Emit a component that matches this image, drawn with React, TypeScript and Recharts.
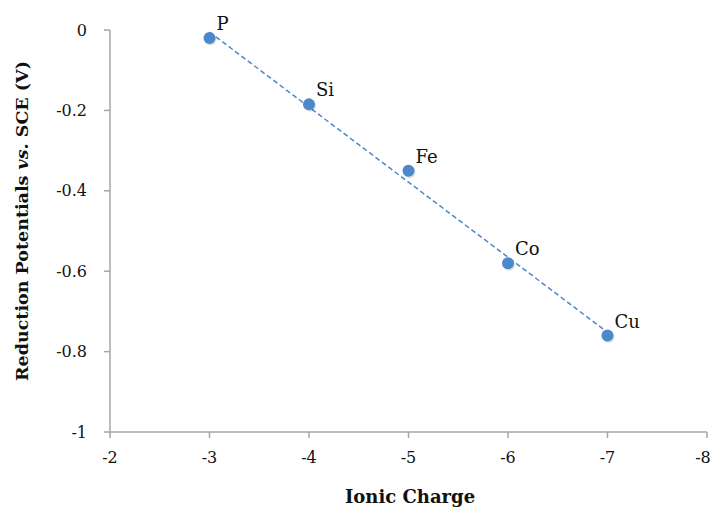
import React from 'react';
import { ScatterChart, Scatter, XAxis, YAxis, LabelList, Label } from 'recharts';

const elements = ['P', 'Si', 'Fe', 'Co', 'Cu'];
const charges = [-3, -4, -5, -6, -7];
const potentials = [-0.02, -0.185, -0.35, -0.58, -0.76];
const trendX = [-3, -7];
const trendY = [-0.005, -0.752];
const xTicks = [-2, -3, -4, -5, -6, -7, -8];
const yTicks = [0, -0.2, -0.4, -0.6, -0.8, -1];

const points = elements.map((name, i) => ({ name, x: charges[i], y: potentials[i] }));
const trend = trendX.map((x, i) => ({ x, y: trendY[i] }));

const BLUE = '#4d87cc';
const AXIS = '#a6a6a6';
const FONT = '"DejaVu Serif", serif';

const Dot = (props: any) => {
  const { cx, cy } = props;
  return (
    <g>
      <circle cx={cx + 1} cy={cy + 1.5} r={6} fill="#000" opacity={0.12} />
      <circle cx={cx} cy={cy} r={6} fill={BLUE} />
    </g>
  );
};

const NoDot = () => <g />;

const PointLabel = (props: any) => {
  const { x, y, width, height, value } = props;
  const cx = x + (width || 0) / 2;
  const cy = y + (height || 0) / 2;
  return (
    <text x={cx + 7} y={cy - 8} fontFamily={FONT} fontSize={18} fill="#111">
      {value}
    </text>
  );
};

const XTick = (props: any) => {
  const { x, y, payload } = props;
  const v = payload.value;
  const shift = v === xTicks[xTicks.length - 1] ? -4 : 0;
  return (
    <text
      x={x + shift}
      y={y + 23}
      textAnchor="middle"
      fontFamily={FONT}
      fontSize={16}
      fill="#111"
    >
      {String(v)}
    </text>
  );
};

const YTitle = () => (
  <text
    x={0}
    y={0}
    transform="translate(28,221) rotate(-90)"
    textAnchor="middle"
    fontFamily={FONT}
    fontSize={17.5}
    fontWeight="bold"
    fill="#111"
  >
    Reduction Potentials <tspan fontStyle="italic">vs.</tspan> SCE (V)
  </text>
);

const XTitle = () => (
  <text
    x={410}
    y={503}
    textAnchor="middle"
    fontFamily={FONT}
    fontSize={18}
    fontWeight="bold"
    fill="#111"
  >
    Ionic Charge
  </text>
);

const fmtY = (v: number) => (v === 0 ? '0' : v === -1 ? '-1' : String(Math.round(v * 10) / 10));

export default function App() {
  return (
    <div style={{ position: 'absolute', left: 0, top: 0, background: '#fff' }}>
      <ScatterChart width={713} height={509} margin={{ top: 30, right: 6, bottom: 35, left: 50 }}>
        <XAxis
          type="number"
          dataKey="x"
          domain={[-8, -2]}
          reversed
          ticks={xTicks}
          interval={0}
          stroke={AXIS}
          strokeWidth={1.5}
          tickSize={6}
          tick={<XTick />}
          height={42}
          allowDataOverflow
        >
          <Label content={<XTitle />} />
        </XAxis>
        <YAxis
          type="number"
          dataKey="y"
          domain={[-1, 0]}
          ticks={yTicks}
          interval={0}
          tickFormatter={fmtY}
          stroke={AXIS}
          strokeWidth={1.5}
          tickSize={6}
          tick={{ fill: '#111', fontFamily: FONT, fontSize: 16, dx: -15 }}
          width={60}
          allowDataOverflow
        >
          <Label content={<YTitle />} />
        </YAxis>
        <Scatter
          data={trend}
          line={{ stroke: BLUE, strokeWidth: 1.5, strokeDasharray: '5 3' }}
          shape={NoDot}
          isAnimationActive={false}
        />
        <Scatter data={points} shape={Dot} isAnimationActive={false}>
          <LabelList dataKey="name" content={<PointLabel />} />
        </Scatter>
      </ScatterChart>
    </div>
  );
}
